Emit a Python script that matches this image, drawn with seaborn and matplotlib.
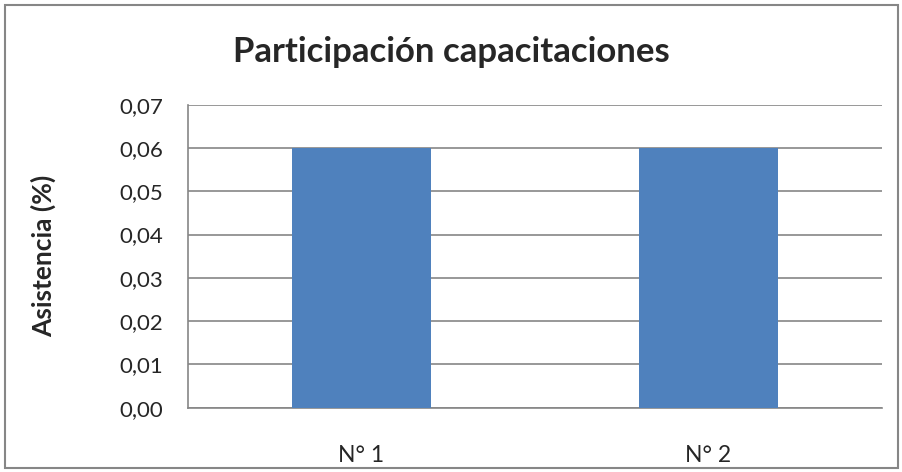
import matplotlib
matplotlib.use("Agg")
import matplotlib.pyplot as plt
import matplotlib.patches as mpatches
import seaborn as sns
import pandas as pd

# data
categories = ["N° 1", "N° 2"]
asistencia = [0.06, 0.06]
y_ticks = [0.00, 0.01, 0.02, 0.03, 0.04, 0.05, 0.06, 0.07]

df = pd.DataFrame({"cap": categories, "asis": asistencia})

sns.set_style("white")
plt.rcParams["font.family"] = ["Lato", "DejaVu Sans"]

grey = "#868686"
fig = plt.figure(figsize=(9.03, 4.72), dpi=100)
ax = fig.add_axes([0.2082, 0.1362, 0.7685, 0.642])

sns.barplot(data=df, x="cap", y="asis", color="#4F81BD", width=0.4,
            saturation=1, linewidth=0, edgecolor="none", ax=ax, zorder=3)

ax.set_xlim(-0.5, 1.5)
ax.set_ylim(0, 0.07)
ax.set_yticks(y_ticks)
ax.set_yticklabels([f"{t:.2f}".replace(".", ",") for t in y_ticks], fontsize=16)
ax.tick_params(axis="y", length=9, color=grey, width=1.2, pad=9)
ax.tick_params(axis="x", length=0, pad=27, labelsize=16.5)

ax.grid(axis="y", color=grey, linewidth=1.2, zorder=0)
ax.set_axisbelow(True)
for s in ["top", "right"]:
    ax.spines[s].set_visible(False)
for s in ["left", "bottom"]:
    ax.spines[s].set_color(grey)
    ax.spines[s].set_linewidth(1.2)

ax.set_xlabel("")
ax.set_ylabel("Asistencia (%)", fontsize=19, fontweight="bold")
ax.yaxis.set_label_coords(-0.19, 0.5)

fig.text(0.5, 0.89, "Participación capacitaciones", ha="center", va="center",
         fontsize=25, fontweight="bold")

# chart border
border = mpatches.Rectangle((0.006, 0.008), 0.988, 0.982, transform=fig.transFigure,
                            fill=False, edgecolor=grey, linewidth=1.5)
fig.patches.append(border)

fig.savefig("out.png", dpi=100)
